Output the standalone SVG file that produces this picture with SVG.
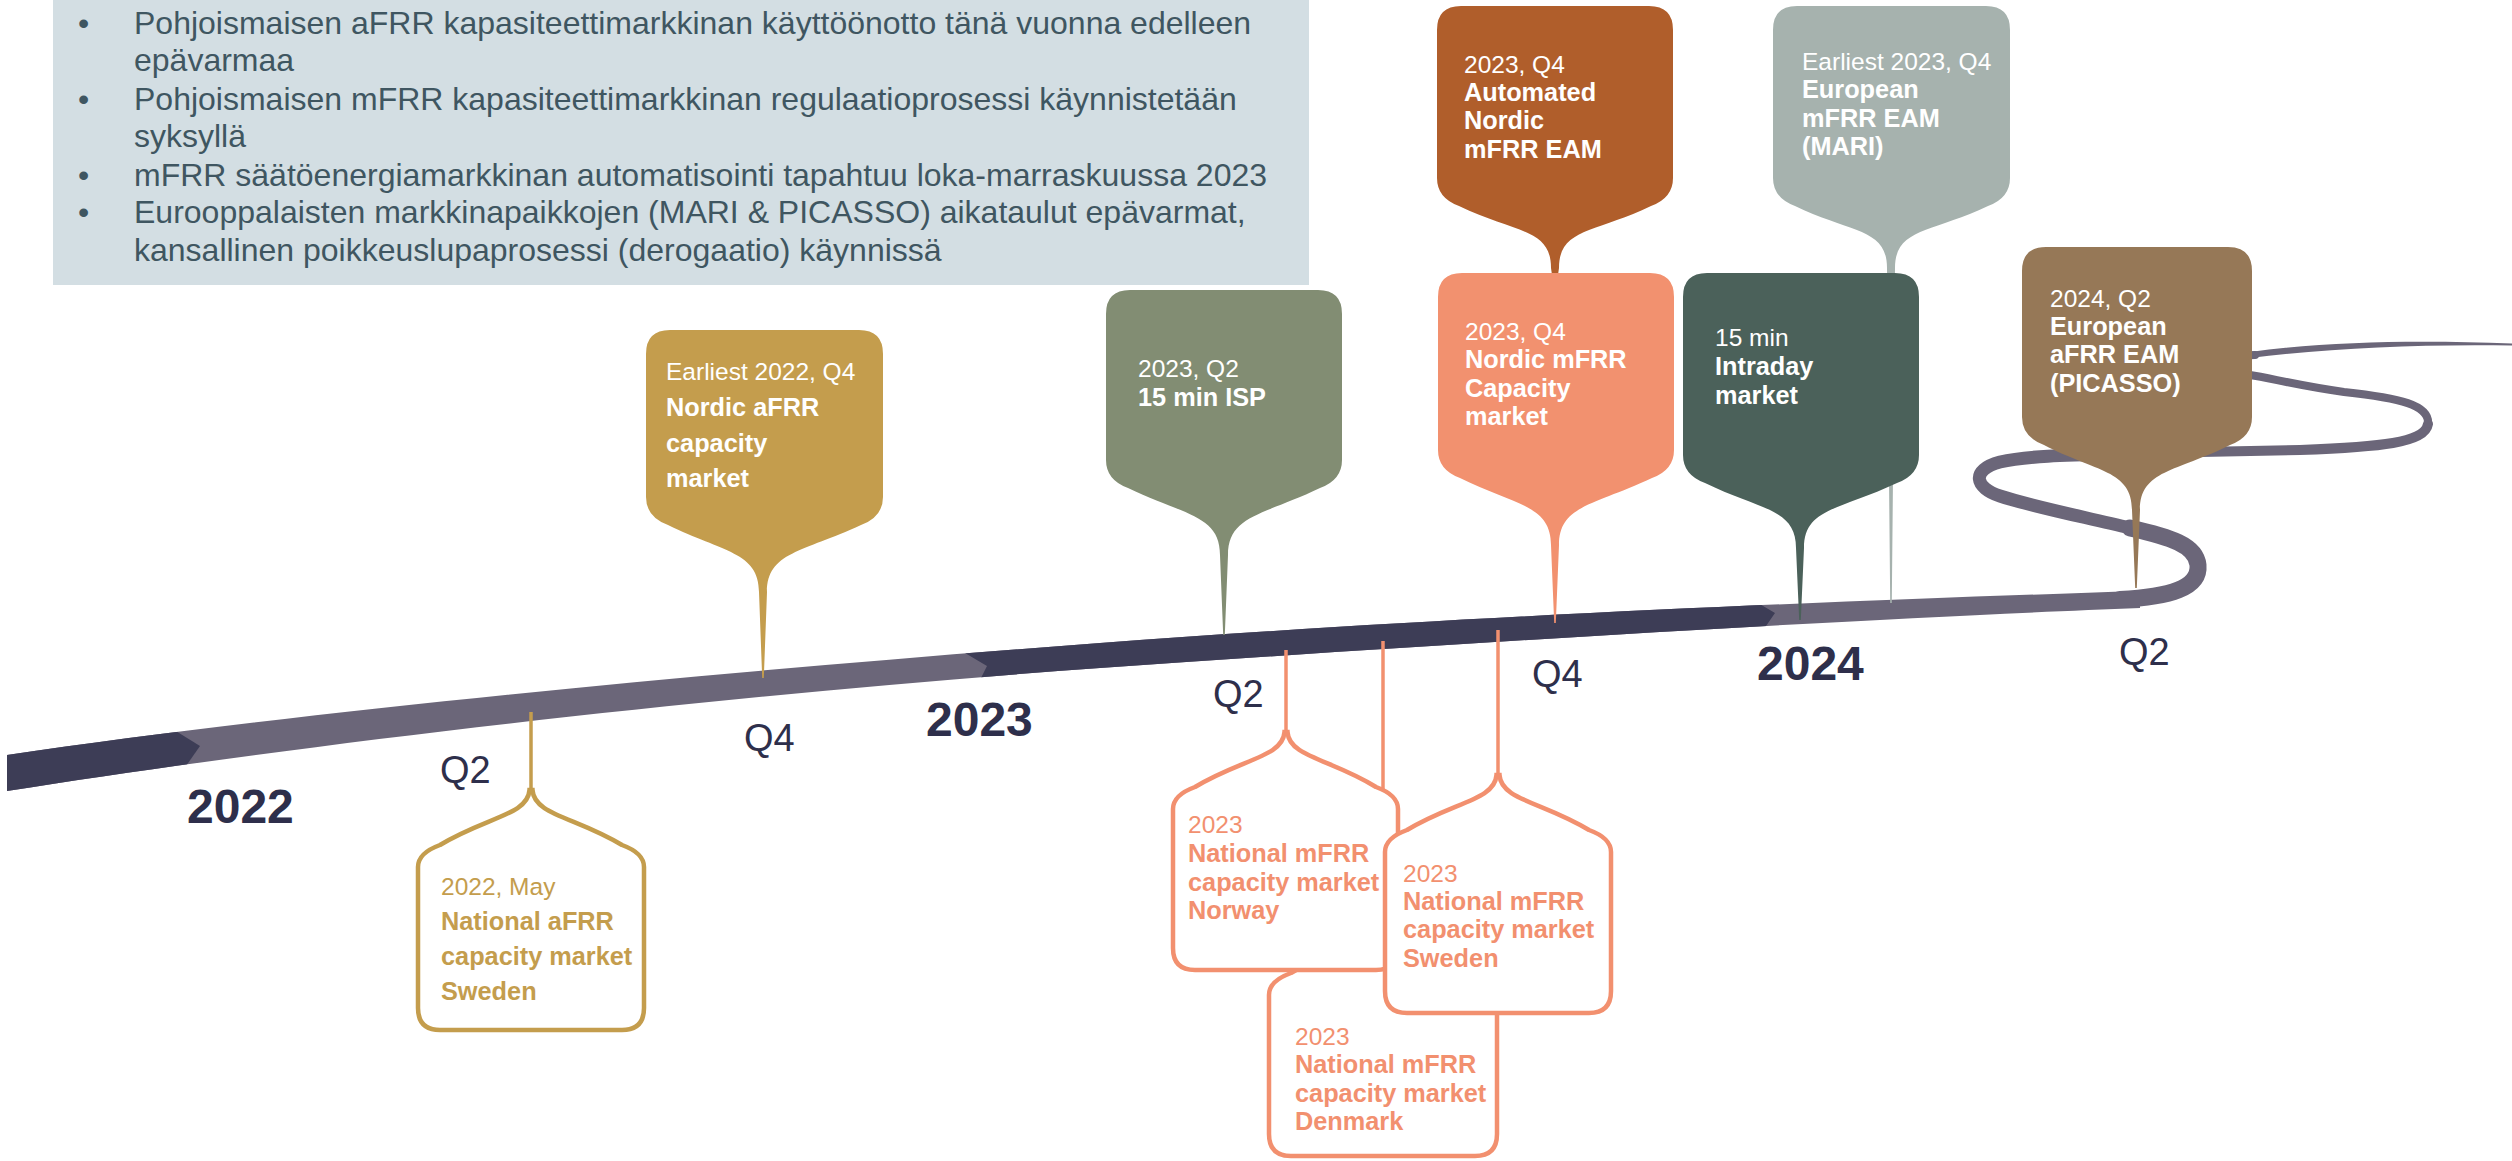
<svg xmlns="http://www.w3.org/2000/svg" width="2512" height="1161" viewBox="0 0 2512 1161">
<style>
text{font-family:"Liberation Sans",Arial,sans-serif}
.tb{font-size:32px;fill:#3F5661}
.w{font-size:24.5px;fill:#FFFFFF}
.wb{font-size:25.3px;fill:#FFFFFF;font-weight:bold}
.g{font-size:24.5px;fill:#C49D4D}
.gb{font-size:25.3px;fill:#C49D4D;font-weight:bold}
.s{font-size:24.5px;fill:#F2906F}
.sb{font-size:25.3px;fill:#F2906F;font-weight:bold}
.yr{font-size:48px;font-weight:bold;fill:#2E2F4B}
.q{font-size:38px;fill:#2E2F4B}
.road{fill:#6B6679}
.roadDark{fill:#3D3D56}
.loop{fill:none;stroke:#6B6679;stroke-linecap:round;stroke-linejoin:round}
.outG{fill:#FFFFFF;stroke:#C49D4D;stroke-width:4.5}
.outS{fill:#FFFFFF;stroke:#F2906F;stroke-width:4.5}
.stemG{stroke:#C49D4D;stroke-width:3.5;fill:none}
.stemS{stroke:#F2906F;stroke-width:3.5;fill:none}
</style>
<defs>
<clipPath id="roadClip">
<path d="M7,755 C300,712 700,673 1100,643 C1500,613 1900,599 2140,591 L2140,608 C1900,617 1500,640 1100,668 C700,697 300,745 7,791 Z"/>
</clipPath>
</defs>
<rect width="2512" height="1161" fill="#FFFFFF"/>

<g id="infobox">
<rect x="53" y="-10" width="1256" height="295" fill="#D3DEE3"/>
<text class="tb"><tspan x="78" y="34">•</tspan><tspan x="134" y="34">Pohjoismaisen aFRR kapasiteettimarkkinan käyttöönotto tänä vuonna edelleen</tspan></text>
<text class="tb" x="134" y="71">epävarmaa</text>
<text class="tb"><tspan x="78" y="110">•</tspan><tspan x="134" y="110">Pohjoismaisen mFRR kapasiteettimarkkinan regulaatioprosessi käynnistetään</tspan></text>
<text class="tb" x="134" y="147">syksyllä</text>
<text class="tb"><tspan x="78" y="186">•</tspan><tspan x="134" y="186">mFRR säätöenergiamarkkinan automatisointi tapahtuu loka-marraskuussa 2023</tspan></text>
<text class="tb"><tspan x="78" y="223">•</tspan><tspan x="134" y="223">Eurooppalaisten markkinapaikkojen (MARI &amp; PICASSO) aikataulut epävarmat,</tspan></text>
<text class="tb" x="134" y="261">kansallinen poikkeuslupaprosessi (derogaatio) käynnissä</text>
</g>

<g id="timeline">
<path class="road" d="M7,755 C300,712 700,673 1100,643 C1500,613 1900,599 2140,591 L2140,608 C1900,617 1500,640 1100,668 C700,697 300,745 7,791 Z"/>
<g clip-path="url(#roadClip)">
<path class="roadDark" d="M0,700 L158,720 L200,746 L172,786 L0,800 Z"/>
<path class="roadDark" d="M943,640 L987,666 L971,698 L1757,639 L1775,613 L1741,593 Z"/>
</g>
<path class="loop" stroke-width="17" d="M2120,599.5 C2170,597 2200,588 2198,565 C2196,545 2170,537 2130,528"/>
<path class="loop" stroke-width="13" d="M2130,528 C2080,516 2030,506 2000,496 C1975,488 1970,470 2000,462 C2030,455 2080,455 2150,453"/>
<path class="loop" stroke-width="10" d="M2150,453 L2300,450 C2380,447 2425,443 2428,424"/>
<path class="loop" stroke-width="8" d="M2428,424 C2430,405 2400,398 2344,392 C2300,386 2270,378 2250,375 C2200,368 2200,357 2255,355"/>
<path class="road" d="M2250,352 C2330,341 2420,340 2512,343.5 L2512,345.5 C2420,344 2330,348 2250,358 Z"/>
</g>

<g id="labels">
<text class="yr" x="187" y="823">2022</text>
<text class="q" x="440" y="783">Q2</text>
<text class="q" x="744" y="751">Q4</text>
<text class="yr" x="926" y="736">2023</text>
<text class="q" x="1213" y="707">Q2</text>
<text class="q" x="1532" y="687">Q4</text>
<text class="yr" x="1757" y="680">2024</text>
<text class="q" x="2119" y="665">Q2</text>
</g>

<g id="node-nordic-afrr">
<path fill="#C49D4D" d="M670,330 H859 Q883,330 883,354 V497 Q883,517 861,525 C803,552 767,552 767,592 L763.8,678 L762.2,678 L759,592 C759,552 723,552 668,525 Q646,517 646,497 V354 Q646,330 670,330 Z"/>
<text class="w" x="666" y="380">Earliest 2022, Q4</text>
<text class="wb" x="666" y="416">Nordic aFRR</text>
<text class="wb" x="666" y="452">capacity</text>
<text class="wb" x="666" y="487">market</text>
</g>

<g id="node-isp">
<path fill="#828D73" d="M1130,290 H1318 Q1342,290 1342,314 V460 Q1342,480 1320,488 C1264,515 1228,515 1228,555 L1224.8,635 L1223.2,635 L1220,555 C1220,515 1184,515 1128,488 Q1106,480 1106,460 V314 Q1106,290 1130,290 Z"/>
<text class="w" x="1138" y="377">2023, Q2</text>
<text class="wb" x="1138" y="406">15 min ISP</text>
</g>

<g id="node-automated-eam">
<path fill="#B05E2B" d="M1461,6 H1649 Q1673,6 1673,30 V178 Q1673,198 1651,206 C1595,233 1559,228 1559,268 L1555.8,290 L1554.2,290 L1551,268 C1551,228 1515,233 1459,206 Q1437,198 1437,178 V30 Q1437,6 1461,6 Z"/>
<text class="w" x="1464" y="73">2023, Q4</text>
<text class="wb" x="1464" y="101">Automated</text>
<text class="wb" x="1464" y="129">Nordic</text>
<text class="wb" x="1464" y="158">mFRR EAM</text>
</g>

<g id="node-nordic-mfrr">
<path fill="#F2916F" d="M1462,273 H1650 Q1674,273 1674,297 V450 Q1674,470 1652,478 C1595,505 1559,505 1559,545 L1555.8,623 L1554.2,623 L1551,545 C1551,505 1515,505 1460,478 Q1438,470 1438,450 V297 Q1438,273 1462,273 Z"/>
<text class="w" x="1465" y="340">2023, Q4</text>
<text class="wb" x="1465" y="368">Nordic mFRR</text>
<text class="wb" x="1465" y="397">Capacity</text>
<text class="wb" x="1465" y="425">market</text>
</g>

<g id="node-mari">
<path fill="#A6B2AE" d="M1797,6 H1986 Q2010,6 2010,30 V178 Q2010,198 1988,206 C1931,233 1895,228 1895,268 L1891.8,603 L1890.2,603 L1887,268 C1887,228 1851,233 1795,206 Q1773,198 1773,178 V30 Q1773,6 1797,6 Z"/>
<text class="w" x="1802" y="70">Earliest 2023, Q4</text>
<text class="wb" x="1802" y="98">European</text>
<text class="wb" x="1802" y="127">mFRR EAM</text>
<text class="wb" x="1802" y="155">(MARI)</text>
</g>

<g id="node-intraday">
<path fill="#4B615A" d="M1707,273 H1895 Q1919,273 1919,297 V455 Q1919,475 1897,483 C1840,510 1804,508 1804,548 L1800.8,620 L1799.2,620 L1796,548 C1796,508 1760,510 1705,483 Q1683,475 1683,455 V297 Q1683,273 1707,273 Z"/>
<text class="w" x="1715" y="346">15 min</text>
<text class="wb" x="1715" y="375">Intraday</text>
<text class="wb" x="1715" y="404">market</text>
</g>

<g id="node-picasso">
<path fill="#967857" d="M2046,247 H2228 Q2252,247 2252,271 V417 Q2252,437 2230,445 C2176,472 2140,470 2140,510 L2136.8,588 L2135.2,588 L2132,510 C2132,470 2096,472 2044,445 Q2022,437 2022,417 V271 Q2022,247 2046,247 Z"/>
<text class="w" x="2050" y="307">2024, Q2</text>
<text class="wb" x="2050" y="335">European</text>
<text class="wb" x="2050" y="363">aFRR EAM</text>
<text class="wb" x="2050" y="392">(PICASSO)</text>
</g>

<g id="node-sweden-afrr">
<path class="stemG" d="M531,712 V792"/>
<path class="outG" d="M529.5,790 C528,815 486,817 440,845 Q418,853 418,867 V1008 Q418,1030 440,1030 H622 Q644,1030 644,1008 V867 Q644,853 622,845 C576,817 534,815 532.5,790 Z"/>
<text class="g" x="441" y="895">2022, May</text>
<text class="gb" x="441" y="930">National aFRR</text>
<text class="gb" x="441" y="965">capacity market</text>
<text class="gb" x="441" y="1000">Sweden</text>
</g>

<g id="node-denmark-mfrr">
<path class="stemS" d="M1383,641 V920"/>
<path class="outS" d="M1381.5,918 C1380,943 1338,945 1291,973 Q1269,981 1269,995 V1134 Q1269,1156 1291,1156 H1475 Q1497,1156 1497,1134 V995 Q1497,981 1475,973 C1428,945 1386,943 1384.5,918 Z"/>
<text class="s" x="1295" y="1045">2023</text>
<text class="sb" x="1295" y="1073">National mFRR</text>
<text class="sb" x="1295" y="1102">capacity market</text>
<text class="sb" x="1295" y="1130">Denmark</text>
</g>

<g id="node-norway-mfrr">
<path class="stemS" d="M1286,650 V734"/>
<path class="outS" d="M1284.5,732 C1283,757 1241,759 1195,787 Q1173,795 1173,809 V948 Q1173,970 1195,970 H1376 Q1398,970 1398,948 V809 Q1398,795 1376,787 C1331,759 1289,757 1287.5,732 Z"/>
<text class="s" x="1188" y="833">2023</text>
<text class="sb" x="1188" y="862">National mFRR</text>
<text class="sb" x="1188" y="891">capacity market</text>
<text class="sb" x="1188" y="919">Norway</text>
</g>

<g id="node-sweden-mfrr">
<path class="stemS" d="M1498,630 V777"/>
<path class="outS" d="M1496.5,775 C1495,800 1453,802 1407,830 Q1385,838 1385,852 V991 Q1385,1013 1407,1013 H1589 Q1611,1013 1611,991 V852 Q1611,838 1589,830 C1543,802 1501,800 1499.5,775 Z"/>
<text class="s" x="1403" y="882">2023</text>
<text class="sb" x="1403" y="910">National mFRR</text>
<text class="sb" x="1403" y="938">capacity market</text>
<text class="sb" x="1403" y="967">Sweden</text>
</g>
</svg>
